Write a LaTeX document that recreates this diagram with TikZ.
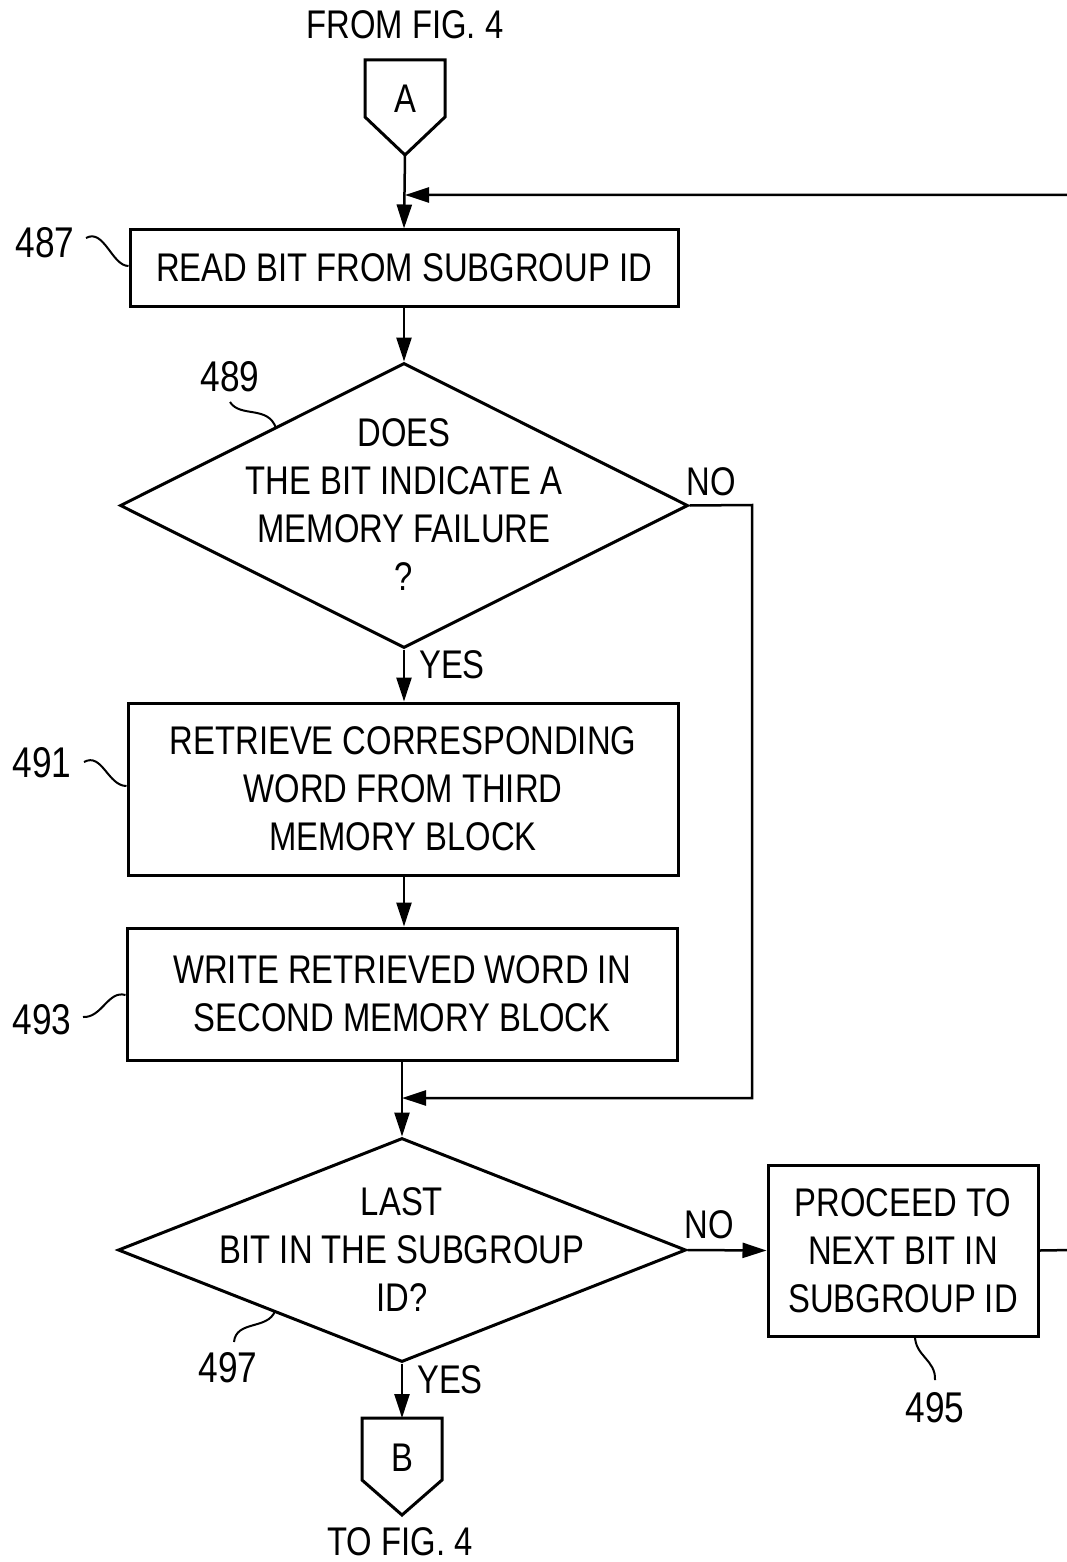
\documentclass[tikz,border=0pt]{standalone}
\usepackage{fontspec}
\setmainfont{Liberation Sans}[FakeStretch=0.82]
\usetikzlibrary{arrows.meta,shapes.geometric}

\tikzset{
  shapeline/.style={line width=3pt, line join=miter},
  procbox/.style={shapeline, draw, rectangle, inner sep=0pt, align=center,
                  font=\fontsize{40}{48}\selectfont},
  decision/.style={shapeline, draw, diamond, inner sep=0pt},
  txt/.style={inner sep=0pt, align=center, font=\fontsize{40}{48}\selectfont},
  refnum/.style={inner sep=0pt, font=\fontsize{43}{48}\selectfont},
  flow/.style={line width=2.5pt, -{Triangle[length=24pt,width=15pt]}},
  plain/.style={line width=2.5pt},
  leader/.style={line width=2pt},
}

\begin{document}
\begin{tikzpicture}[x=1pt,y=-1pt]
\useasboundingbox (0,0) rectangle (1066,1562);

% off-page connector A
\node[txt] (fromlbl) at (405,25) {FROM FIG. 4};
\draw[shapeline] (365,60) -- (445,60) -- (445,117) -- (405,155) -- (365,117) -- cycle;
\coordinate (Atip) at (405,155);
\node[txt] (A) at (405,99) {A};

% 487
\node[procbox, minimum width=548pt, minimum height=76pt] (b487) at (404,268) {READ BIT FROM SUBGROUP ID};
\draw[flow] (Atip) -- (b487.north);

% 489 decision
\node[decision, minimum width=568pt, minimum height=285pt] (d489) at (404,505.5) {};
\node[txt] (t489) at (404,505) {DOES\\THE BIT INDICATE A\\MEMORY FAILURE\\?};
\draw[flow] (b487.south) -- (d489.north);

% 491
\node[procbox, minimum width=550pt, minimum height=172pt] (b491) at (403,789) {RETRIEVE CORRESPONDING\\WORD FROM THIRD\\MEMORY BLOCK};
\draw[flow] (d489.south) -- (b491.north -| d489.south);
\node[txt] (yes1) at (452,665) {YES};

% 493
\node[procbox, minimum width=550pt, minimum height=132pt] (b493) at (402,994) {WRITE RETRIEVED WORD IN\\SECOND MEMORY BLOCK};
\draw[flow] (b491.south -| d489.south) -- (b493.north -| d489.south);

% 497 decision
\node[decision, minimum width=568pt, minimum height=224pt] (d497) at (402,1250) {};
\node[txt] (t497) at (402,1250) {LAST\\BIT IN THE SUBGROUP\\ID?};
\draw[flow] (b493.south -| d497.north) -- (d497.north);

% NO branch of 489 rejoining above 497
\coordinate (join2) at (402,1098);
\node[txt] (no1) at (711,482) {NO};
\draw[flow] (d489.east) -- (752,505) -- (752,1098) -- (join2);

% 495
\node[procbox, minimum width=270pt, minimum height=171pt] (b495) at (903,1250.5) {PROCEED TO\\NEXT BIT IN\\SUBGROUP ID};
\draw[flow] (d497.east) -- (b495.west);
\node[txt] (no2) at (709,1225) {NO};

% loop back to the top
\coordinate (join1) at (405,195);
\draw[flow] (b495.east) -- (1072,1250) -- (1072,195) -- (join1);

% off-page connector B
\draw[shapeline] (362,1418) -- (442,1418) -- (442,1480) -- (402,1515) -- (362,1480) -- cycle;
\node[txt] (B) at (402,1458) {B};
\coordinate (Btop) at (402,1418);
\draw[flow] (d497.south) -- (Btop);
\node[txt] (yes2) at (450,1380) {YES};
\node[txt] (tolbl) at (400,1542) {TO FIG. 4};

% reference numerals and leaders
\node[refnum] (n487) at (45,243) {487};
\draw[leader] (86,238) .. controls (104,228) and (112,266) .. (b487.west |- 0,266);
\node[refnum] (n489) at (230,377) {489};
\draw[leader] (230,402) .. controls (240,418) and (268,405) .. (276,428);
\node[refnum] (n491) at (42,763) {491};
\draw[leader] (84,762) .. controls (102,752) and (108,786) .. (b491.west |- 0,786);
\node[refnum] (n493) at (42,1020) {493};
\draw[leader] (83,1017) .. controls (102,1018) and (108,990) .. (b493.west |- 0,995);
\node[refnum] (n497) at (228,1368) {497};
\draw[leader] (234,1342) .. controls (236,1320) and (268,1330) .. (275,1311);
\node[refnum] (n495) at (935,1408) {495};
\draw[leader] (935,1380) .. controls (936,1360) and (915,1356) .. (915,1336);
\end{tikzpicture}
\end{document}
